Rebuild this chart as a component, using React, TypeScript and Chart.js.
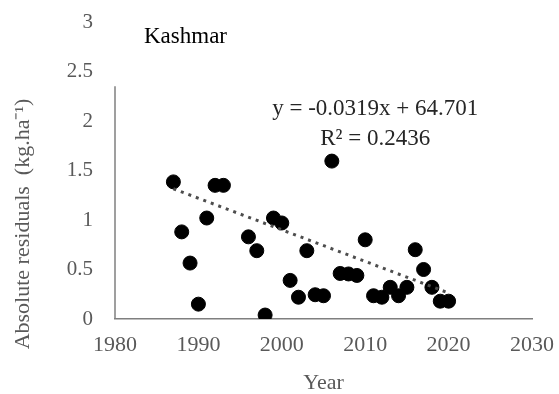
import React, { useEffect, useRef } from "react";
import { Chart, registerables } from "chart.js";

Chart.register(...registerables);

// Observation years and absolute residuals (kg.ha-1)
const years = [
  1987, 1988, 1989, 1990, 1991, 1992, 1993,
  1996, 1997, 1998, 1999, 2000, 2001, 2002, 2003, 2004, 2005, 2006,
  2007, 2008, 2009, 2010, 2011, 2012, 2013, 2014, 2015, 2016, 2017,
  2018, 2019, 2020,
];
const residuals = [
  1.385, 0.88, 0.565, 0.15, 1.02, 1.35, 1.35,
  0.83, 0.69, 0.04, 1.02, 0.97, 0.39, 0.22, 0.69, 0.245, 0.235, 1.595,
  0.46, 0.455, 0.44, 0.8, 0.235, 0.22, 0.32, 0.235, 0.32, 0.7, 0.5,
  0.32, 0.18, 0.18,
];

// Linear trend: y = -0.0319x + 64.701
const trendSlope = -0.0319;
const trendIntercept = 64.701;
const trendYears = [1987, 2020];

const stationName = "Kashmar";
const equationText = "y = -0.0319x + 64.701";
const r2Text = "R² = 0.2436";
const yTitle = "Absolute residuals  (kg.ha⁻¹)";
const xTitle = "Year";

const SERIF = "'Liberation Serif', 'Times New Roman', serif";
const GREY = "#595959";

const annotationPlugin = {
  id: "annotations",
  afterDraw(chart: any) {
    const { ctx, chartArea, scales } = chart;
    const xs = scales.x;
    const ys = scales.y;
    ctx.save();

    // left axis line (stops below the top of the value range)
    ctx.strokeStyle = "#7f7f7f";
    ctx.lineWidth = 1.5;
    ctx.beginPath();
    ctx.moveTo(chartArea.left, ys.getPixelForValue(0));
    ctx.lineTo(chartArea.left, ys.getPixelForValue(2.35));
    ctx.stroke();

    // station name
    ctx.fillStyle = "#000";
    ctx.font = `23px ${SERIF}`;
    ctx.textAlign = "left";
    ctx.textBaseline = "middle";
    ctx.fillText(stationName, chartArea.left + 29, 37);

    // trend equation
    ctx.fillStyle = "#262626";
    ctx.textAlign = "center";
    const ex = xs.getPixelForValue(2011.2);
    ctx.fillText(equationText, ex, ys.getPixelForValue(2.125));
    ctx.fillText(r2Text, ex, ys.getPixelForValue(1.82));

    // axis titles
    ctx.fillStyle = GREY;
    ctx.font = `22px ${SERIF}`;
    ctx.fillText(xTitle, (chartArea.left + chartArea.right) / 2, 383);
    ctx.translate(23, 224);
    ctx.rotate(-Math.PI / 2);
    ctx.fillText(yTitle, 0, 0);

    ctx.restore();
  },
};

export default function App() {
  const canvasRef = useRef<HTMLCanvasElement | null>(null);

  useEffect(() => {
    if (!canvasRef.current) return;
    const chart = new Chart(canvasRef.current, {
      type: "scatter",
      data: {
        datasets: [
          {
            type: "line",
            label: "Linear trend",
            data: trendYears.map((x) => ({ x, y: trendSlope * x + trendIntercept })),
            borderColor: "#4d4d4d",
            borderWidth: 3,
            borderDash: [3, 5],
            pointRadius: 0,
            fill: false,
            order: 0,
          } as any,
          {
            label: stationName,
            data: years.map((x, i) => ({ x, y: residuals[i] })),
            backgroundColor: "#000",
            borderColor: "#000",
            pointRadius: 7,
            pointHoverRadius: 7,
            order: 1,
          },
        ],
      },
      options: {
        animation: false,
        responsive: false,
        maintainAspectRatio: false,
        layout: { padding: { left: 0, right: 27, top: 22, bottom: 0 } },
        plugins: {
          legend: { display: false },
          tooltip: { enabled: false },
          title: { display: false },
        },
        scales: {
          x: {
            type: "linear",
            min: 1980,
            max: 2030,
            grid: { display: false, drawTicks: false },
            border: { display: true, color: "#7f7f7f", width: 1.5 },
            ticks: {
              stepSize: 10,
              padding: 13,
              color: GREY,
              font: { family: SERIF, size: 22 },
              callback: (v: any) => String(v),
            },
            afterFit: (s: any) => {
              s.height = 75;
              s.paddingLeft = 0;
              s.paddingRight = 0;
            },
          },
          y: {
            type: "linear",
            min: 0,
            max: 3,
            grid: { display: false, drawTicks: false },
            border: { display: false },
            ticks: {
              stepSize: 0.5,
              padding: 22,
              color: GREY,
              font: { family: SERIF, size: 21 },
              callback: (v: any) => String(v),
            },
            afterFit: (s: any) => {
              s.width = 115;
              s.paddingTop = 0;
              s.paddingBottom = 0;
            },
          },
        },
      },
      plugins: [annotationPlugin],
    });
    return () => chart.destroy();
  }, []);

  return (
    <div style={{ position: "fixed", left: 0, top: 0, width: 559, height: 394, background: "#fff" }}>
      <canvas ref={canvasRef} width={559} height={394} style={{ width: 559, height: 394 }} />
    </div>
  );
}
